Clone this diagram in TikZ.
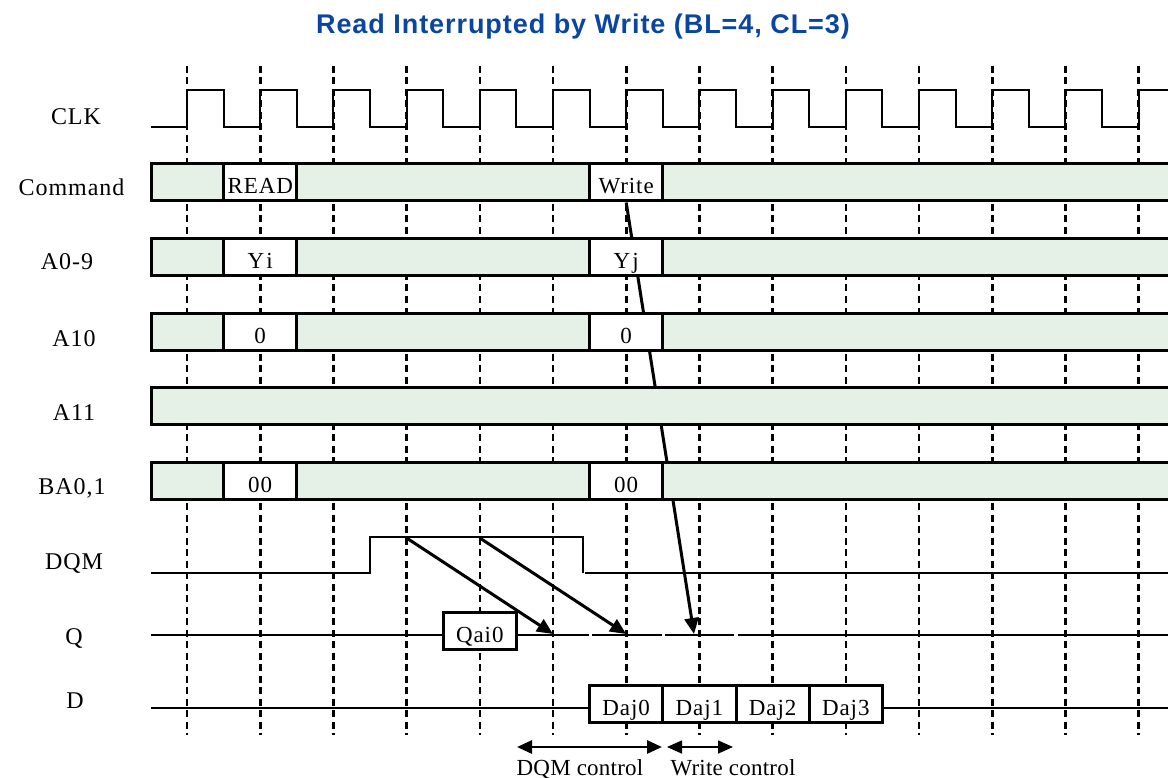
\documentclass[tikz,border=0pt]{standalone}
\usepackage{fontspec}
\setmainfont{Liberation Serif}
\newfontfamily\lblfont[LetterSpace=4]{Liberation Serif}
\newfontfamily\capfont[LetterSpace=1]{Liberation Serif}
\newfontfamily\ttlfont[LetterSpace=3.5]{Liberation Sans}
\usetikzlibrary{arrows.meta,backgrounds}
\definecolor{barfill}{RGB}{229,240,231}
\definecolor{titleblue}{RGB}{10,70,160}
\tikzset{
  lab/.style={font=\lblfont\fontsize{24}{26}\selectfont, text height=16pt, text depth=0pt, inner sep=0pt},
  valbox/.style={draw, line width=3pt, fill=white, minimum height=37pt, minimum width=73.2pt, inner sep=0pt,
    text height=23pt, text depth=0pt, font=\lblfont\fontsize{23}{25}\selectfont},
  sigbar/.style={draw, line width=3pt, fill=barfill},
  wave/.style={line width=2pt},
  gridline/.style={line width=2.6pt, dash pattern=on 7pt off 4.5pt},
  causal/.style={line width=3pt, -{Triangle[length=16pt,width=14pt]}},
  span/.style={{Triangle[length=15pt,width=13pt]}-{Triangle[length=15pt,width=13pt]}},
  caption/.style={font=\capfont\fontsize{23}{25}\selectfont, text height=16pt, text depth=0pt, inner sep=0pt},
  ttl/.style={font=\ttlfont\bfseries\fontsize{27}{31}\selectfont, text=titleblue, text height=19pt, text depth=0pt, inner sep=0pt}
}
\begin{document}
\begin{tikzpicture}[x=1pt,y=-1pt]
\useasboundingbox (0,0) rectangle (1168,778);

% title
\node[ttl] (title) at (583,24) {Read Interrupted by Write (BL=4, CL=3)};

% signal labels
\node[lab] (lclk) at (76,117) {CLK};
\node[lab] (lcmd) at (71.5,188) {Command};
\node[lab] (la09) at (67,262) {A0-9};
\node[lab] (la10) at (74,338) {A10};
\node[lab] (la11) at (74,412) {A11};
\node[lab] (lba) at (72,486) {BA0,1};
\node[lab] (ldqm) at (74,561.5) {DQM};
\node[lab] (lq) at (74,636) {Q};
\node[lab] (ld) at (75,700.5) {D};

% clock
\draw[wave] (151,127) foreach \k in {0,...,12} { -- ({187+73.2*\k},127) -- ({187+73.2*\k},90) -- ({223.6+73.2*\k},90) -- ({223.6+73.2*\k},127) } -- (1138.6,127) -- (1138.6,90) -- (1175,90);

% bus bars
\foreach \yc in {182.5,257,331.5,406,480.5} {
  \draw[sigbar] (151,\yc-18.5) rectangle (1180,\yc+18.5);
}
\node[valbox] (rdcmd) at (260.2,182.5) {READ};
\node[valbox] (wrcmd) at (626.2,182.5) {Write};
\node[valbox] (yi) at (260.2,257) {Y\kern2pt i};
\node[valbox] (yj) at (626.2,257) {Y\kern2pt j};
\node[valbox] (a10r) at (260.2,331.5) {0};
\node[valbox] (a10w) at (626.2,331.5) {0};
\node[valbox] (bar) at (260.2,480.5) {00};
\node[valbox] (baw) at (626.2,480.5) {00};

% DQM
\coordinate (dqmA) at (406.6,538);
\coordinate (dqmB) at (479.8,538);
\draw[wave] (151,573) -- (370,573) -- (370,537) -- (583,537) -- (583,573);
\draw[wave] (585,573) -- (1175,573);

% Q
\node[valbox] (qai) at (479.8,630.5) {Qai0};
\coordinate (qA) at (553,634);
\coordinate (qB) at (626.2,634);
\coordinate (qW) at (694,634);
\draw[wave] (151,634.5) -- (qai.west |- 0,634.5);
\draw[wave] (qai.east |- 0,634.5) -- (589,634.5);
\draw[wave] (592,634.5) -- (661.5,634.5);
\draw[wave] (665,634.5) -- (734,634.5);
\draw[wave] (737.5,634.5) -- (1175,634.5);

% D
\node[valbox] (d0) at (626.2,703.5) {Daj0};
\node[valbox] (d1) at (699.4,703.5) {Daj1};
\node[valbox] (d2) at (772.6,703.5) {Daj2};
\node[valbox] (d3) at (845.8,703.5) {Daj3};
\draw[wave] (151,707.5) -- (d0.west |- 0,707.5);
\draw[wave] (d3.east |- 0,707.5) -- (1175,707.5);

% causal arrows
\draw[causal] (dqmA) -- (qA);
\draw[causal] (dqmB) -- (qB);

% control spans
\coordinate (dqL) at (517,747);
\coordinate (dqR) at (662,747);
\coordinate (wcL) at (667,747);
\coordinate (wcR) at (733,747);
\draw[span, line width=2.8pt] (dqL) -- (dqR);
\draw[span, line width=1.6pt] (wcL) -- (wcR);
\node[caption] (cdqm) at (580,767) {DQM control};
\node[caption] (cwr) at (733,767) {Write control};

\begin{scope}[on background layer]
  \foreach \k in {0,...,13} {
    \draw[gridline] ({187+73.2*\k},66) -- ({187+73.2*\k},735);
  }
  \draw[causal] (wrcmd.south) -- (qW);
\end{scope}
\end{tikzpicture}
\end{document}
